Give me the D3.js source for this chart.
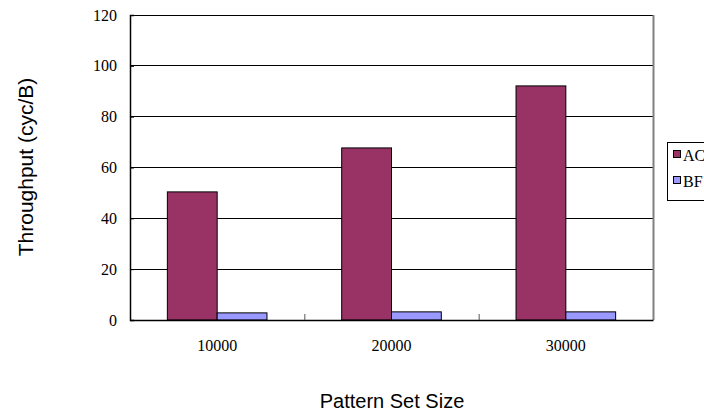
<!DOCTYPE html>
<html><head><meta charset="utf-8">
<script src="https://cdn.jsdelivr.net/npm/d3@7"></script>
<style>body{margin:0;background:#fff}svg{display:block}</style>
</head><body>
<svg id="c" width="704" height="417"></svg>
<script>
const categories = ["10000", "20000", "30000"];
const seriesNames = ["AC", "BF"];
const acValues = [50.4, 67.7, 92.1];
const bfValues = [2.8, 3.2, 3.2];
const yTicks = [0, 20, 40, 60, 80, 100, 120];
const colors = ["#993366", "#9999FF"];

const svg = d3.select("#c");
const L = 130, R = 653, T = 15, B = 320;
const x = d3.scaleBand().domain(categories).range([L, R]);
const y = d3.scaleLinear().domain([0, 120]).range([B, T]);
const serif = "'Liberation Serif','DejaVu Serif',serif";
const sans = "'Liberation Sans',Arial,sans-serif";

// gridlines
svg.append("g").selectAll("line").data(yTicks.filter(d => d > 0)).join("line")
  .attr("x1", L).attr("x2", R).attr("y1", d => y(d)).attr("y2", d => y(d))
  .attr("stroke", "#000").attr("stroke-width", 1).attr("shape-rendering", "crispEdges");

// right border
svg.append("line").attr("x1", R + 0.5).attr("x2", R + 0.5).attr("y1", T).attr("y2", B)
  .attr("stroke", "#808080").attr("stroke-width", 2);

// bars
const bw = x.bandwidth() / 3.5;
const data = [acValues, bfValues];
data.forEach((vals, si) => {
  svg.append("g").selectAll("rect").data(categories).join("rect")
    .attr("x", (c) => x(c) + x.bandwidth() / 2 - bw + si * bw)
    .attr("width", bw)
    .attr("y", (c, i) => y(vals[i]))
    .attr("height", (c, i) => y(0) - y(vals[i]))
    .attr("fill", colors[si]).attr("stroke", "#000").attr("stroke-width", 1);
});

// y axis
const ya = d3.axisLeft(y).tickValues(yTicks).tickSize(-4).tickPadding(13).tickFormat(d3.format("d"));
const gy = svg.append("g").attr("transform", `translate(${L},0)`).call(ya);
gy.select(".domain").attr("stroke", "#000").attr("stroke-width", 1.5);
gy.selectAll("text").attr("font-family", serif).attr("font-size", 16).attr("fill", "#000");

// x axis
const xa = d3.axisBottom(x).tickSize(0).tickPadding(20);
const gx = svg.append("g").attr("transform", `translate(0,${B})`).call(xa);
gx.select(".domain").attr("stroke", "#000").attr("stroke-width", 1.5);
gx.selectAll("text").attr("font-family", serif).attr("font-size", 16).attr("fill", "#000");
// category boundary ticks
svg.append("g").selectAll("line").data(categories.slice(1)).join("line")
  .attr("x1", c => x(c) + 0.5).attr("x2", c => x(c) + 0.5)
  .attr("y1", B).attr("y2", B - 6).attr("stroke", "#555");

// titles
svg.append("text").attr("x", 392).attr("y", 408).attr("text-anchor", "middle")
  .attr("font-family", sans).attr("font-size", 20).text("Pattern Set Size");
svg.append("text").attr("transform", "translate(33,167) rotate(-90)").attr("text-anchor", "middle")
  .attr("font-family", sans).attr("font-size", 21).text("Throughput (cyc/B)");

// legend
const lg = svg.append("g");
lg.append("rect").attr("x", 667.5).attr("y", 142.5).attr("width", 60).attr("height", 58)
  .attr("fill", "#fff").attr("stroke", "#000");
seriesNames.forEach((n, i) => {
  const cy = 155 + i * 26;
  lg.append("rect").attr("x", 673.5).attr("y", cy - 4.5).attr("width", 7).attr("height", 7)
    .attr("fill", colors[i]).attr("stroke", "#000");
  lg.append("text").attr("x", 683).attr("y", cy + 5.5).attr("font-family", serif)
    .attr("font-size", 16).text(n);
});
</script>
</body></html>
